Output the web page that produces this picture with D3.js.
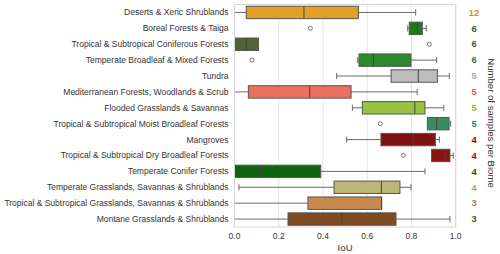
<!DOCTYPE html>
<html>
<head>
<meta charset="utf-8">
<script src="https://cdn.jsdelivr.net/npm/d3@7"></script>
<style>
  html, body { margin: 0; padding: 0; background: #fff; }
  svg { display: block; font-family: "Liberation Sans", Arial, sans-serif; }
</style>
</head>
<body>
<div id="chart"></div>
<script>
// boxplot IoU par biome - stats
const biomes = [
  'Deserts & Xeric Shrublands',
  'Boreal Forests & Taiga',
  'Tropical & Subtropical Coniferous Forests',
  'Temperate Broadleaf & Mixed Forests',
  'Tundra',
  'Mediterranean Forests, Woodlands & Scrub',
  'Flooded Grasslands & Savannas',
  'Tropical & Subtropical Moist Broadleaf Forests',
  'Mangroves',
  'Tropical & Subtropical Dry Broadleaf Forests',
  'Temperate Conifer Forests',
  'Temperate Grasslands, Savannas & Shrublands',
  'Tropical & Subtropical Grasslands, Savannas & Shrublands',
  'Montane Grasslands & Shrublands'
];
const counts = [12, 6, 6, 6, 5, 5, 5, 5, 4, 4, 4, 4, 3, 3];
const colors = ['#e3a024', '#1c7a1c', '#4f6533', '#2b8a2b', '#bdbdbd', '#ea7060', '#99c142',
                '#3a8c5c', '#7e1212', '#8a1414', '#0f650f', '#bcb678', '#c8884e', '#7d4a22'];
const textColors = ['#d4941c', '#1c6e1c', '#4a5e30', '#2a7a2a', '#a8a8a8', '#d9624f', '#8cb23a',
                    '#33805a', '#7a1212', '#841414', '#0f600f', '#aaa46c', '#b87a44', '#74431e'];

const whiskerLow  = [0.0,   0.783, 0.0,   0.557, 0.462, 0.0,   0.533, 0.872, 0.507, 0.891, 0.0,   0.02,  0.0,   0.0];
const q1          = [0.053, 0.79,  0.0,   0.563, 0.708, 0.0625,0.578, 0.872, 0.662, 0.891, 0.0,   0.45,  0.332, 0.242];
const median      = [0.314, 0.826, 0.053, 0.628, 0.831, 0.34,  0.815, 0.914, 0.808, 0.952, 0.117, 0.664, 0.665, 0.485];
const q3          = [0.56,  0.849, 0.108, 0.798, 0.917, 0.527, 0.861, 0.97,  0.908, 0.974, 0.39,  0.748, 0.665, 0.73];
const whiskerHigh = [0.819, 0.867, 0.108, 0.914, 0.971, 0.826, 0.946, 0.977, 0.926, 0.989, 0.861, 0.798, 0.665, 0.974];
const outliers    = [[], [0.343], [0.881], [0.079], [], [], [], [0.659], [], [0.763], [], [], [], []];

const xTicks = [0, 0.2, 0.4, 0.6, 0.8, 1.0];

const width = 500, height = 254;
const svg = d3.select('#chart').append('svg')
  .attr('width', width).attr('height', height);

const x = d3.scaleLinear().domain([0, 1]).range([234.5, 455.7]);
const y = d3.scaleBand().domain(biomes).range([4.5, 227]).paddingInner(0).paddingOuter(0);
const bw = y.bandwidth() * 0.78;
const capW = bw * 0.5;

// grille verticale
svg.append('g').selectAll('line').data(xTicks).join('line')
  .attr('x1', d => x(d)).attr('x2', d => x(d))
  .attr('y1', y.range()[0]).attr('y2', y.range()[1])
  .attr('stroke', '#e6e6e6').attr('stroke-width', 1);

svg.append('clipPath').attr('id', 'plotclip').append('rect')
  .attr('x', x(0)).attr('y', y.range()[0])
  .attr('width', x(1) - x(0)).attr('height', y.range()[1] - y.range()[0]);

const rows = biomes.map((b, i) => ({
  b, i, lo: whiskerLow[i], q1: q1[i], med: median[i], q3: q3[i], hi: whiskerHigh[i],
  out: outliers[i], c: colors[i]
}));

const lineCol = '#6a6a6a';
const g = svg.append('g').attr('clip-path', 'url(#plotclip)');

const box = g.selectAll('g.box').data(rows).join('g').attr('class', 'box')
  .attr('transform', d => `translate(0,${y(d.b) + y.bandwidth() / 2})`);

// moustaches
box.append('line').attr('x1', d => x(d.lo)).attr('x2', d => x(d.q1))
  .attr('stroke', lineCol).attr('stroke-width', 1);
box.append('line').attr('x1', d => x(d.q3)).attr('x2', d => x(d.hi))
  .attr('stroke', lineCol).attr('stroke-width', 1);
box.filter(d => d.lo < d.q1).append('line')
  .attr('x1', d => x(d.lo)).attr('x2', d => x(d.lo))
  .attr('y1', -capW / 2).attr('y2', capW / 2)
  .attr('stroke', lineCol).attr('stroke-width', 1);
box.filter(d => d.hi > d.q3).append('line')
  .attr('x1', d => x(d.hi)).attr('x2', d => x(d.hi))
  .attr('y1', -capW / 2).attr('y2', capW / 2)
  .attr('stroke', lineCol).attr('stroke-width', 1);

box.append('rect')
  .attr('x', d => x(d.q1)).attr('width', d => x(d.q3) - x(d.q1))
  .attr('y', -bw / 2).attr('height', bw)
  .attr('fill', d => d.c).attr('stroke', '#555').attr('stroke-width', 1);

box.append('line').attr('x1', d => x(d.med)).attr('x2', d => x(d.med))
  .attr('y1', -bw / 2).attr('y2', bw / 2)
  .attr('stroke', '#444').attr('stroke-width', 1);

box.selectAll('circle').data(d => d.out).join('circle')
  .attr('cx', v => x(v)).attr('cy', 0).attr('r', 2)
  .attr('fill', 'none').attr('stroke', '#666').attr('stroke-width', 0.9);

// cadre
svg.append('rect')
  .attr('x', x(0)).attr('y', y.range()[0])
  .attr('width', x(1) - x(0)).attr('height', y.range()[1] - y.range()[0])
  .attr('fill', 'none').attr('stroke', '#d6d6d6').attr('stroke-width', 1);

// libelles
svg.append('g').selectAll('text').data(biomes).join('text')
  .attr('x', x(0) - 6).attr('y', d => y(d) + y.bandwidth() / 2)
  .attr('dy', '0.35em').attr('text-anchor', 'end')
  .attr('font-size', 8.5).attr('fill', '#333').text(d => d);

svg.append('g').selectAll('text').data(xTicks).join('text')
  .attr('x', d => x(d)).attr('y', 236).attr('dy', '0.35em')
  .attr('text-anchor', 'middle').attr('font-size', 8.5).attr('fill', '#333')
  .text(d3.format('.1f'));

svg.append('text').attr('x', (x(0) + x(1)) / 2).attr('y', 247.5).attr('dy', '0.35em')
  .attr('text-anchor', 'middle').attr('font-size', 9.7).attr('fill', '#333').text('IoU');

// nombre d'echantillons
svg.append('g').selectAll('text').data(counts).join('text')
  .attr('x', 474).attr('y', (d, i) => y(biomes[i]) + y.bandwidth() / 2)
  .attr('dy', '0.35em').attr('text-anchor', 'middle')
  .attr('font-size', 9.3).attr('font-weight', 'bold')
  .attr('fill', (d, i) => textColors[i]).text(d => d);

svg.append('text')
  .attr('transform', 'translate(491.5,123) rotate(90)')
  .attr('text-anchor', 'middle').attr('dy', '0.35em')
  .attr('font-size', 9.6).attr('fill', '#333').text('Number of samples per Biome');
</script>
</body>
</html>
